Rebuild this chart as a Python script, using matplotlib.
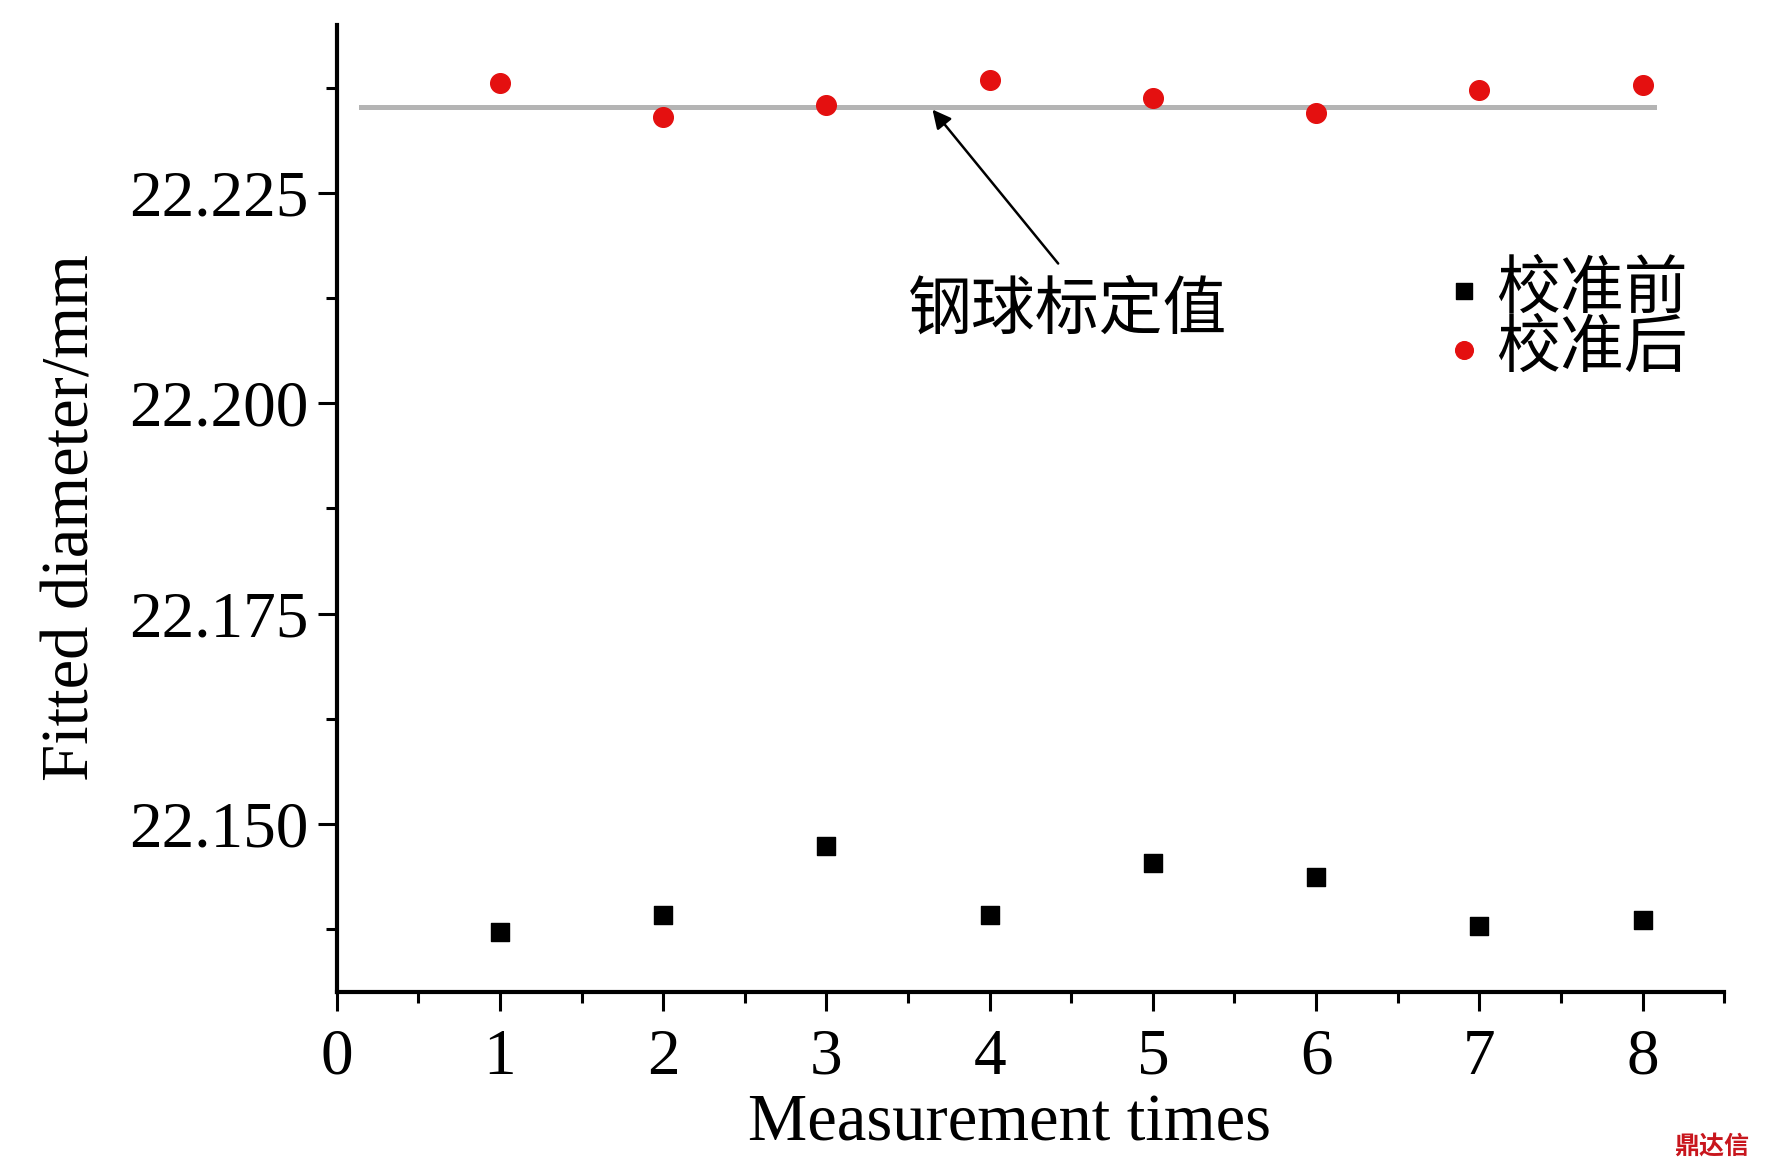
import matplotlib
matplotlib.use('Agg')
from matplotlib import pyplot as plt
from matplotlib.ticker import MultipleLocator

plt.rcParams['font.family'] = ['Liberation Serif', 'Noto Sans CJK SC']

times = [1, 2, 3, 4, 5, 6, 7, 8]
before = [22.1372, 22.1392, 22.1474, 22.1392, 22.1453, 22.1437, 22.1379, 22.1386]
after = [22.2380, 22.2340, 22.2355, 22.2384, 22.2363, 22.2345, 22.2372, 22.2378]
ball_value = 22.2352
ref_line_x = [0.15, 8.07]
x_ticks = [0, 1, 2, 3, 4, 5, 6, 7, 8]
y_ticks = [22.150, 22.175, 22.200, 22.225]

fig = plt.figure(figsize=(17.72, 11.70), dpi=100)
ax = fig.add_axes([0.190, 0.152, 0.783, 0.827])

ax.plot(ref_line_x, [ball_value, ball_value], color='#b4b4b4', lw=3.6, zorder=1)
ax.scatter(times, before, marker='s', s=150, color='black', label='校准前', zorder=3)
ax.scatter(times, after, marker='o', s=200, color='#e41010', label='校准后', zorder=3)

# arrow pointing at the reference line, label below it
ax.annotate('', xy=(3.65, ball_value - 0.0003), xytext=(4.42, 22.2166),
            arrowprops=dict(arrowstyle='-|>', color='black', lw=1.8,
                            mutation_scale=28, shrinkA=0, shrinkB=0))
ax.text(4.48, 22.2108, '钢球标定值', ha='center', va='center', fontsize=46)

ax.set_xlim(0, 8.5)
ax.set_ylim(22.130, 22.245)
ax.set_xticks(x_ticks)
ax.set_yticks(y_ticks)
ax.set_yticklabels(['%.3f' % v for v in y_ticks])
ax.xaxis.set_minor_locator(MultipleLocator(0.5))
ax.yaxis.set_minor_locator(MultipleLocator(0.0125))

for side in ['top', 'right']:
    ax.spines[side].set_visible(False)
for side in ['left', 'bottom']:
    ax.spines[side].set_linewidth(3)

ax.tick_params(which='major', length=14, width=2.2, labelsize=47, pad=6)
ax.tick_params(axis='x', which='major', pad=12)
ax.tick_params(which='minor', length=8, width=2.2)

ax.set_xlabel('Measurement times', fontsize=48)
ax.set_ylabel('Fitted diameter/mm', fontsize=48)
ax.xaxis.set_label_coords(0.485, -0.105)
ax.yaxis.set_label_coords(-0.169, 0.49)

ax.legend(loc='upper right', bbox_to_anchor=(0.997, 0.787), frameon=False,
          fontsize=46, handletextpad=0.0, labelspacing=0.0, borderpad=0,
          handlelength=1.0, markerscale=0.9)

fig.text(0.987, 0.010, '鼎达信', color='#c8161d', fontsize=18, ha='right',
         va='bottom', fontweight='bold', family=['Noto Sans CJK SC'])

fig.savefig('out.png', dpi=100)
